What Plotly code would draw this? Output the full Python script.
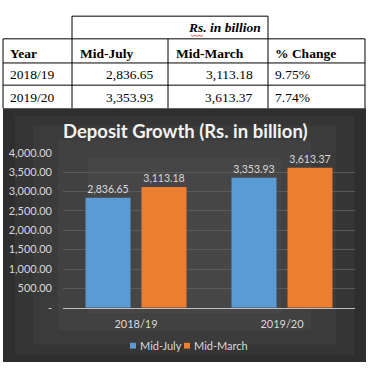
import plotly.graph_objects as go

W, H = 372, 371

# ---- data ----
years = ["2018/19", "2019/20"]
mid_july = [2836.65, 3353.93]
mid_march = [3113.18, 3613.37]
pct_change = ["9.75%", "7.74%"]
table_headers = ["Year", "Mid-July", "Mid-March", "% Change"]
unit_note = "Rs. in billion"
chart_title = "Deposit Growth (Rs. in billion)"
series_names = ["Mid-July", "Mid-March"]
series_colors = ["#5B9BD5", "#ED7D31"]
y_tickvals = [0, 500, 1000, 1500, 2000, 2500, 3000, 3500, 4000]
y_ticktext = ["-", "500.00", "1,000.00", "1,500.00", "2,000.00", "2,500.00",
              "3,000.00", "3,500.00", "4,000.00"]


def px(x):
    return x / W


def py(y):
    return 1 - y / H


def fmt(v):
    return f"{v:,.2f}"


fig = go.Figure()
for name, vals, col in zip(series_names, [mid_july, mid_march], series_colors):
    fig.add_trace(go.Bar(
        x=years, y=vals, name=name,
        marker=dict(color=col, line=dict(width=0)),
        text=[fmt(v) for v in vals], textposition="outside",
        textfont=dict(color="#d9d9d9", size=10.5, family="Lato"),
        cliponaxis=False, showlegend=False,
    ))

shapes = []
# dark chart background with a soft vignette
cx0, cy0, cx1, cy1 = 3, 105, 366, 368
layers = [("#2e2e2e", 0), ("#353535", 12), ("#3b3b3b", 30), ("#414141", 55), ("#464646", 85)]
for col, inset in layers:
    shapes.append(dict(type="rect", xref="paper", yref="paper", layer="below",
                       x0=px(cx0 + inset), x1=px(cx1 - inset),
                       y0=py(cy1 - inset * 0.6), y1=py(cy0 + inset * 0.6),
                       fillcolor=col, line=dict(width=0)))

# table lines
line = dict(color="black", width=1)


def hline(y, x0, x1):
    shapes.append(dict(type="line", xref="paper", yref="paper",
                       x0=px(x0), x1=px(x1), y0=py(y), y1=py(y), line=line))


def vline(x, y0, y1):
    shapes.append(dict(type="line", xref="paper", yref="paper",
                       x0=px(x), x1=px(x), y0=py(y0), y1=py(y1), line=line))


hline(9.5, 72, 268)
hline(33, 3, 365)
hline(58, 3, 365)
hline(81, 3, 365)
vline(72, 9.5, 105)
vline(268, 9.5, 105)
vline(3, 33, 105)
vline(168, 33, 105)
vline(365, 33, 105)

ann = []
tfont = dict(family="Liberation Serif", size=13.5, color="black")


def note(text, x, y, xanchor, font):
    ann.append(dict(text=text, x=px(x), y=py(y), xref="paper", yref="paper",
                    xanchor=xanchor, yanchor="middle", showarrow=False, font=font))


note("<b><i>" + unit_note + "</i></b>", 263, 21, "right", tfont)
# red squiggle under "Rs."
pts = [(191, 29), (193, 30.5), (195, 29), (197, 30.5), (199, 29), (201, 30.5), (203, 29)]
path = "M " + " L ".join(f"{px(a)} {py(b)}" for a, b in pts)
shapes.append(dict(type="path", xref="paper", yref="paper", path=path,
                   line=dict(color="#e03030", width=0.8)))
hx = [8, 78, 174, 273]
for i, h in enumerate(table_headers):
    note("<b>" + h + "</b>", hx[i], 48, "left", tfont)
row_y = [70, 94]
for i, yr in enumerate(years):
    note(yr, 8, row_y[i], "left", tfont)
    note(fmt(mid_july[i]), 156, row_y[i], "right", tfont)
    note(fmt(mid_march[i]), 255, row_y[i], "right", tfont)
    note(pct_change[i], 273, row_y[i], "left", tfont)

note("<b>" + chart_title + "</b>", 185, 128, "center",
     dict(family="Lato", size=18.5, color="#f2f2f2"))

# legend (Excel-style small squares)
lfont = dict(family="Lato", size=11, color="#d9d9d9")
legend_x = [130, 184]
for name, col, lx in zip(series_names, series_colors, legend_x):
    shapes.append(dict(type="rect", xref="paper", yref="paper",
                       x0=px(lx), x1=px(lx + 6), y0=py(354), y1=py(348),
                       fillcolor=col, line=dict(width=0)))
    note(name, lx + 8, 351, "left", lfont)

fig.update_layout(
    width=W, height=H, autosize=False,
    margin=dict(l=0, r=0, t=0, b=0),
    paper_bgcolor="white", plot_bgcolor="rgba(0,0,0,0)",
    barmode="group", bargap=0.233, bargroupgap=0.196,
    shapes=shapes, annotations=ann,
    xaxis=dict(domain=[px(63), px(355)], showgrid=False, zeroline=False,
               showline=True, linecolor="#bfbfbf", linewidth=1,
               tickfont=dict(family="Lato", size=11, color="#d9d9d9"),
               ticks="", ticklabelstandoff=6),
    yaxis=dict(domain=[py(311.7), py(151)], range=[0, 4000],
               tickvals=y_tickvals, ticktext=y_ticktext,
               showgrid=True, gridcolor="#5a5a5a", gridwidth=1, zeroline=False,
               showline=False, ticks="",
               tickfont=dict(family="Lato", size=11, color="#d9d9d9"),
               ticklabelstandoff=10),
    showlegend=False,
)

fig.write_html(
    "out.html", config={"displayModeBar": False},
    post_script=("document.documentElement.style.margin='0';"
                 "document.body.style.margin='0';"
                 "document.documentElement.style.overflow='hidden';"
                 "document.body.style.overflow='hidden';"),
)
